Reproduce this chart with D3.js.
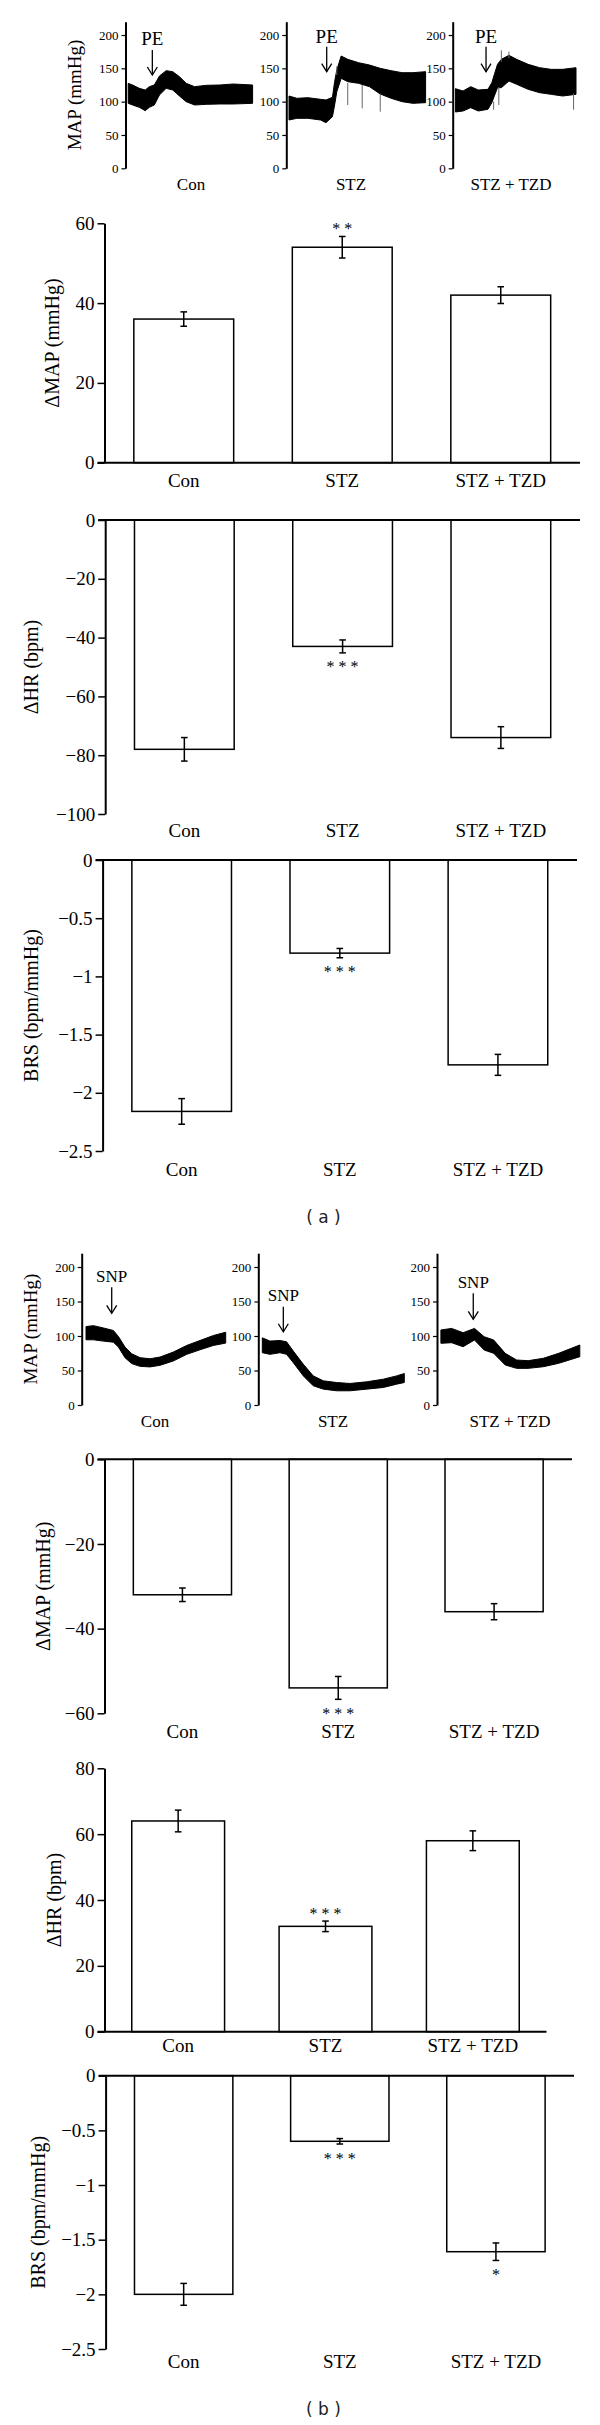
<!DOCTYPE html>
<html>
<head>
<meta charset="utf-8">
<script src="https://cdnjs.cloudflare.com/ajax/libs/d3/7.8.5/d3.min.js"></script>
<style>
  body { margin: 0; background: #fff; }
  svg text { font-family: "Liberation Serif", "Times New Roman", serif; fill: #000; }
</style>
</head>
<body>
<div id="fig"></div>
<script>

/** group names */
const groups = ["Con", "STZ", "STZ + TZD"];

/** MAP recordings: t = % of the record, band lower / upper edge in mmHg */
const peConT  = [0, 3.5, 8.9, 13.7, 17, 21, 25.1, 30.5, 35.8, 41.2, 46.6, 53.4, 62.8, 73.6, 84.4, 100];
const peConHi = [127.5, 125, 120, 117.5, 122.5, 125, 138.5, 146.5, 145, 137.5, 127.5, 122.5, 124.5, 125, 126.5, 125];
const peConLo = [97.5, 95, 91.5, 86.5, 91.5, 95, 110, 120, 117.5, 108.5, 100, 95, 96, 96.5, 96.5, 97.5];

const peStzT  = [0, 5.8, 13.8, 23.1, 27.1, 31.8, 33.4, 35, 38.2, 43, 50.9, 58.9, 66.8, 74.8, 82.8, 90.7, 100];
const peStzHi = [108.5, 105, 106, 103.5, 102.5, 106.5, 130, 147.5, 168.5, 163.5, 158.5, 155, 150, 146.5, 143.5, 143.5, 145];
const peStzLo = [72.5, 75, 75, 72.5, 68.5, 77.5, 95, 115, 135, 130, 127.5, 122.5, 111.5, 105, 100, 97.5, 98.5];

const peTzdT  = [0, 6.3, 12.7, 19, 27, 30.2, 34.9, 38.1, 44.4, 50.8, 60.3, 69.8, 79.4, 88.9, 100];
const peTzdHi = [119.5, 116, 122.5, 117.5, 118.5, 128.5, 156, 163.5, 169.5, 163.5, 156, 151, 148.5, 148.5, 151];
const peTzdLo = [84.5, 86, 91, 86, 88.5, 98.5, 121, 121, 131, 126, 118.5, 113.5, 111, 108.5, 111];

const snpConT  = [0, 5.3, 12.4, 19.6, 23.2, 27.9, 32.7, 38.7, 45.8, 53, 62.5, 72.1, 81.6, 91.2, 100];
const snpConHi = [113.7, 115, 111.7, 108, 99.3, 84, 74.3, 68.6, 67, 69.5, 76.7, 86.3, 93.5, 100.7, 105.5];
const snpConLo = [94.5, 94.5, 92.6, 91, 84, 68.6, 60, 56, 55.2, 57.5, 63.8, 73.4, 80, 86.3, 89.7];

const snpStzT  = [0, 5.4, 12.4, 17.1, 21.8, 28.9, 35.9, 43, 52.3, 61.7, 73.5, 85.2, 94.6, 100];
const snpStzHi = [97.4, 92.6, 93.5, 91.6, 78.2, 59, 42.2, 35, 32.6, 31.2, 33.6, 37.4, 42.2, 45.6];
const snpStzLo = [75.8, 73.4, 75.8, 73.4, 61.4, 42.2, 27.8, 23, 20.6, 20.6, 23, 25.4, 30.2, 32.6];

const snpTzdT  = [0, 7.7, 16, 24.2, 31.1, 38, 46.3, 54.5, 62.8, 73.8, 84.8, 100];
const snpTzdHi = [108.7, 111, 104.8, 111, 99, 94.2, 74.9, 65.2, 64.2, 67.7, 74.9, 87];
const snpTzdLo = [89.4, 90.3, 84.5, 94.2, 79.7, 74.9, 58, 53.1, 53.1, 55.5, 60.4, 70];

/** single beats sticking out of the band: [t, from, to] */
const peStzSpikes = [[35, 140, 153], [43, 128, 95], [53.6, 125, 90], [66.8, 112, 85]];
const peTzdSpikes = [[31.7, 100, 88], [36, 122, 95], [38.1, 160, 177], [44.4, 165, 175], [98, 112, 88]];

/** drug markers (arrow at t, values in mmHg) */
const peArrowT = [19.4, 27.6, 25.4], peArrowTip = [140, 145, 145], peArrowTop = [177.5, 182.4, 182.4], peLabelAt = [185, 187.5, 187.5];
const snpArrowT = [18.4, 14.8, 23.3], snpArrowTip = [132.9, 106.2, 124.2], snpArrowTop = [170.6, 142.5, 161.9], snpLabelAt = [178.7, 151.2, 169.1];

const mapTicks = [0, 50, 100, 150, 200];

/** bar data: mean, SEM, significance */
const dMapA = [36, 54, 42],        dMapAErr = [1.8, 2.7, 2.1],     dMapASig = ["", "**", ""];
const dHrA  = [-78, -43, -74],     dHrAErr  = [4, 2.2, 3.7],       dHrASig  = ["", "***", ""];
const brsA  = [-2.16, -0.8, -1.76], brsAErr = [0.11, 0.04, 0.09],  brsASig  = ["", "***", ""];
const dMapB = [-32, -54, -36],     dMapBErr = [1.6, 2.7, 1.9],     dMapBSig = ["", "***", ""];
const dHrB  = [64, 32, 58],        dHrBErr  = [3.3, 1.6, 3],       dHrBSig  = ["", "***", ""];
const brsB  = [-2.0, -0.6, -1.61], brsBErr  = [0.1, 0.025, 0.08],  brsBSig  = ["", "***", "*"];

const dMapATicks = [0, 20, 40, 60];
const dHrATicks  = [0, -20, -40, -60, -80, -100];
const brsTicks   = [0, -0.5, -1, -1.5, -2, -2.5];
const dMapBTicks = [0, -20, -40, -60];
const dHrBTicks  = [0, 20, 40, 60, 80];

/** canvas */
const width = 600, height = 2425;
const svg = d3.select('#fig').append('svg')
    .attr('width', width)
    .attr('height', height);

const fmt = d3.format("");

/** draw one row of MAP recordings */
function drawTraceRow(row) {
    let y = d3.scaleLinear().domain([0, 220]).range([row.y0, row.yTop]);

    row.title && svg.append('text')
        .attr('transform', `translate(${row.titleX}, ${(row.y0 + row.yTop) / 2}) rotate(-90)`)
        .attr('text-anchor', 'middle')
        .attr('dominant-baseline', 'central')
        .style('font-size', '19px')
        .text(row.title);

    row.traces.forEach(function (tr, i) {
        let x = d3.scaleLinear().domain([0, 100]).range([tr.x0, tr.x1]);

        let g = svg.append('g');
        let yAxis = d3.axisLeft(y).tickValues(mapTicks).tickSize(4).tickSizeOuter(0).tickPadding(3).tickFormat(fmt);
        let ax = g.append('g')
            .attr('transform', `translate(${tr.axisX}, 0)`)
            .call(yAxis);
        ax.select('.domain').attr('stroke-width', 2);
        ax.selectAll('.tick line').attr('stroke-width', 1.2);
        ax.selectAll('.tick text').style('font-size', '13px').style('font-family', '"Liberation Serif", serif');

        /** the recording band */
        let pts = tr.t.map((d, k) => ({ t: d, lo: tr.lo[k], hi: tr.hi[k] }));
        let area = d3.area()
            .x(d => x(d.t))
            .y0(d => y(d.lo))
            .y1(d => y(d.hi));
        g.append('path')
            .datum(pts)
            .attr('d', area)
            .attr('fill', '#000')
            .attr('stroke', '#000')
            .attr('stroke-width', 1);

        (tr.spikes || []).forEach(function (s) {
            g.append('line')
                .attr('x1', x(s[0])).attr('x2', x(s[0]))
                .attr('y1', y(s[1])).attr('y2', y(s[2]))
                .attr('stroke', '#666')
                .attr('stroke-width', 1);
        });

        /** drug arrow */
        let ax0 = x(row.arrowT[i]);
        let tip = y(row.arrowTip[i]);
        g.append('line')
            .attr('x1', ax0).attr('x2', ax0)
            .attr('y1', y(row.arrowTop[i])).attr('y2', tip)
            .attr('stroke', '#000').attr('stroke-width', 1.3);
        g.append('path')
            .attr('d', `M${ax0 - 5},${tip - 8} L${ax0},${tip} L${ax0 + 5},${tip - 8}`)
            .attr('fill', 'none').attr('stroke', '#000').attr('stroke-width', 1.3);
        g.append('text')
            .attr('x', ax0)
            .attr('y', y(row.labelAt[i]))
            .attr('text-anchor', 'middle')
            .style('font-size', row.drugSize)
            .text(row.drug);

        g.append('text')
            .attr('x', tr.labelX)
            .attr('y', row.labelY)
            .attr('text-anchor', 'middle')
            .style('font-size', '17px')
            .text(groups[i]);
    });
}

/** draw one bar chart */
function drawBars(p) {
    let ext = d3.max(p.ticks.map(Math.abs)) * Math.sign(d3.sum(p.ticks));
    let y = d3.scaleLinear().domain([0, ext]).range([p.y0, p.yEnd]);
    let x = d3.scaleBand().domain(groups).range([p.axisX, p.xEnd]).paddingInner(0.37).paddingOuter(0.185);

    let g = svg.append('g');

    /** bars */
    g.selectAll('.bar')
        .data(p.vals)
        .enter()
        .append('rect')
        .attr('class', 'bar')
        .attr('x', (d, i) => x(groups[i]))
        .attr('width', x.bandwidth())
        .attr('y', d => Math.min(y(d), y(0)))
        .attr('height', d => Math.abs(y(d) - y(0)))
        .attr('fill', '#fff')
        .attr('stroke', '#000')
        .attr('stroke-width', 1.5);

    /** error bars */
    p.vals.forEach(function (v, i) {
        let cx = x(groups[i]) + x.bandwidth() / 2;
        let a = y(v - p.err[i]), b = y(v + p.err[i]);
        g.append('line').attr('x1', cx).attr('x2', cx).attr('y1', a).attr('y2', b)
            .attr('stroke', '#000').attr('stroke-width', 1.5);
        [a, b].forEach(function (yy) {
            g.append('line').attr('x1', cx - 3.3).attr('x2', cx + 3.3).attr('y1', yy).attr('y2', yy)
                .attr('stroke', '#000').attr('stroke-width', 1.5);
        });

        /** asterisks beyond the error bar */
        if (p.sig[i]) {
            let outer = v >= 0 ? y(v + p.err[i]) - 10 : y(v - p.err[i]) + 12;
            g.append('text')
                .attr('x', cx)
                .attr('y', outer + 7.5)
                .attr('text-anchor', 'middle')
                .style('font-size', '16px')
                .text(p.sig[i].split('').join(' '));
        }
    });

    /** zero line */
    g.append('line')
        .attr('x1', p.axisX - 7).attr('x2', p.xEnd)
        .attr('y1', y(0)).attr('y2', y(0))
        .attr('stroke', '#000').attr('stroke-width', 2);

    let yAxis = d3.axisLeft(y).tickValues(p.ticks).tickSize(7).tickSizeOuter(0).tickPadding(3).tickFormat(fmt);
    let ax = g.append('g')
        .attr('transform', `translate(${p.axisX}, 0)`)
        .call(yAxis);
    ax.select('.domain').attr('stroke-width', 2);
    ax.selectAll('.tick line').attr('stroke-width', 1.5);
    ax.selectAll('.tick text').style('font-size', '19px').style('font-family', '"Liberation Serif", serif');

    g.append('text')
        .attr('transform', `translate(${p.titleX}, ${(p.y0 + p.yEnd) / 2}) rotate(-90)`)
        .attr('text-anchor', 'middle')
        .attr('dominant-baseline', 'central')
        .style('font-size', '20px')
        .text(p.title);

    g.selectAll('.glabel')
        .data(groups)
        .enter()
        .append('text')
        .attr('x', d => x(d) + x.bandwidth() / 2)
        .attr('y', p.labelY)
        .attr('text-anchor', 'middle')
        .style('font-size', '19px')
        .text(d => d);
}

/** (a) PE */
drawTraceRow({
    y0: 168.3, yTop: 21.7, title: 'MAP (mmHg)', titleX: 74.6, labelY: 190,
    drug: 'PE', drugSize: '19px',
    arrowT: peArrowT, arrowTip: peArrowTip, arrowTop: peArrowTop, labelAt: peLabelAt,
    traces: [
        { axisX: 125.5, x0: 128.2, x1: 252.6, labelX: 191, t: peConT, lo: peConLo, hi: peConHi },
        { axisX: 286.3, x0: 289, x1: 425.6, labelX: 351, t: peStzT, lo: peStzLo, hi: peStzHi, spikes: peStzSpikes },
        { axisX: 452.7, x0: 455.4, x1: 576, labelX: 511, t: peTzdT, lo: peTzdLo, hi: peTzdHi, spikes: peTzdSpikes }
    ]
});

drawBars({ vals: dMapA, err: dMapAErr, sig: dMapASig, ticks: dMapATicks, title: 'ΔMAP (mmHg)',
    axisX: 104.5, xEnd: 580, y0: 462.7, yEnd: 223.3, titleX: 52.4, labelY: 486.7 });
drawBars({ vals: dHrA, err: dHrAErr, sig: dHrASig, ticks: dHrATicks, title: 'ΔHR (bpm)',
    axisX: 105.2, xEnd: 580, y0: 520, yEnd: 814, titleX: 31.4, labelY: 837 });
drawBars({ vals: brsA, err: brsAErr, sig: brsASig, ticks: brsTicks, title: 'BRS (bpm/mmHg)',
    axisX: 102.6, xEnd: 577, y0: 860, yEnd: 1151, titleX: 30.6, labelY: 1176 });

/** (b) SNP */
drawTraceRow({
    y0: 1405, yTop: 1253.2, title: 'MAP (mmHg)', titleX: 30.6, labelY: 1427,
    drug: 'SNP', drugSize: '17px',
    arrowT: snpArrowT, arrowTip: snpArrowTip, arrowTop: snpArrowTop, labelAt: snpLabelAt,
    traces: [
        { axisX: 81.7, x0: 86, x1: 225.7, labelX: 155, t: snpConT, lo: snpConLo, hi: snpConHi },
        { axisX: 258.3, x0: 262.3, x1: 404.3, labelX: 333, t: snpStzT, lo: snpStzLo, hi: snpStzHi },
        { axisX: 437, x0: 440.9, x1: 579.8, labelX: 510, t: snpTzdT, lo: snpTzdLo, hi: snpTzdHi }
    ]
});

drawBars({ vals: dMapB, err: dMapBErr, sig: dMapBSig, ticks: dMapBTicks, title: 'ΔMAP (mmHg)',
    axisX: 104.5, xEnd: 572, y0: 1459.3, yEnd: 1713.3, titleX: 42.9, labelY: 1738.3 });
drawBars({ vals: dHrB, err: dHrBErr, sig: dHrBSig, ticks: dHrBTicks, title: 'ΔHR (bpm)',
    axisX: 104.5, xEnd: 546.5, y0: 2031.7, yEnd: 1768.3, titleX: 53.6, labelY: 2051.7 });
drawBars({ vals: brsB, err: brsBErr, sig: brsBSig, ticks: brsTicks, title: 'BRS (bpm/mmHg)',
    axisX: 105.6, xEnd: 574, y0: 2075.7, yEnd: 2349, titleX: 38.3, labelY: 2367.7 });

/** panel letters */
[['( a )', 1217], ['( b )', 2409]].forEach(function (d) {
    svg.append('text')
        .attr('x', 323.4)
        .attr('y', d[1])
        .attr('text-anchor', 'middle')
        .attr('dominant-baseline', 'central')
        .style('font-family', '"DejaVu Sans", sans-serif')
        .style('font-size', '17px')
        .style('fill', '#222')
        .text(d[0]);
});

</script>
</body>
</html>
